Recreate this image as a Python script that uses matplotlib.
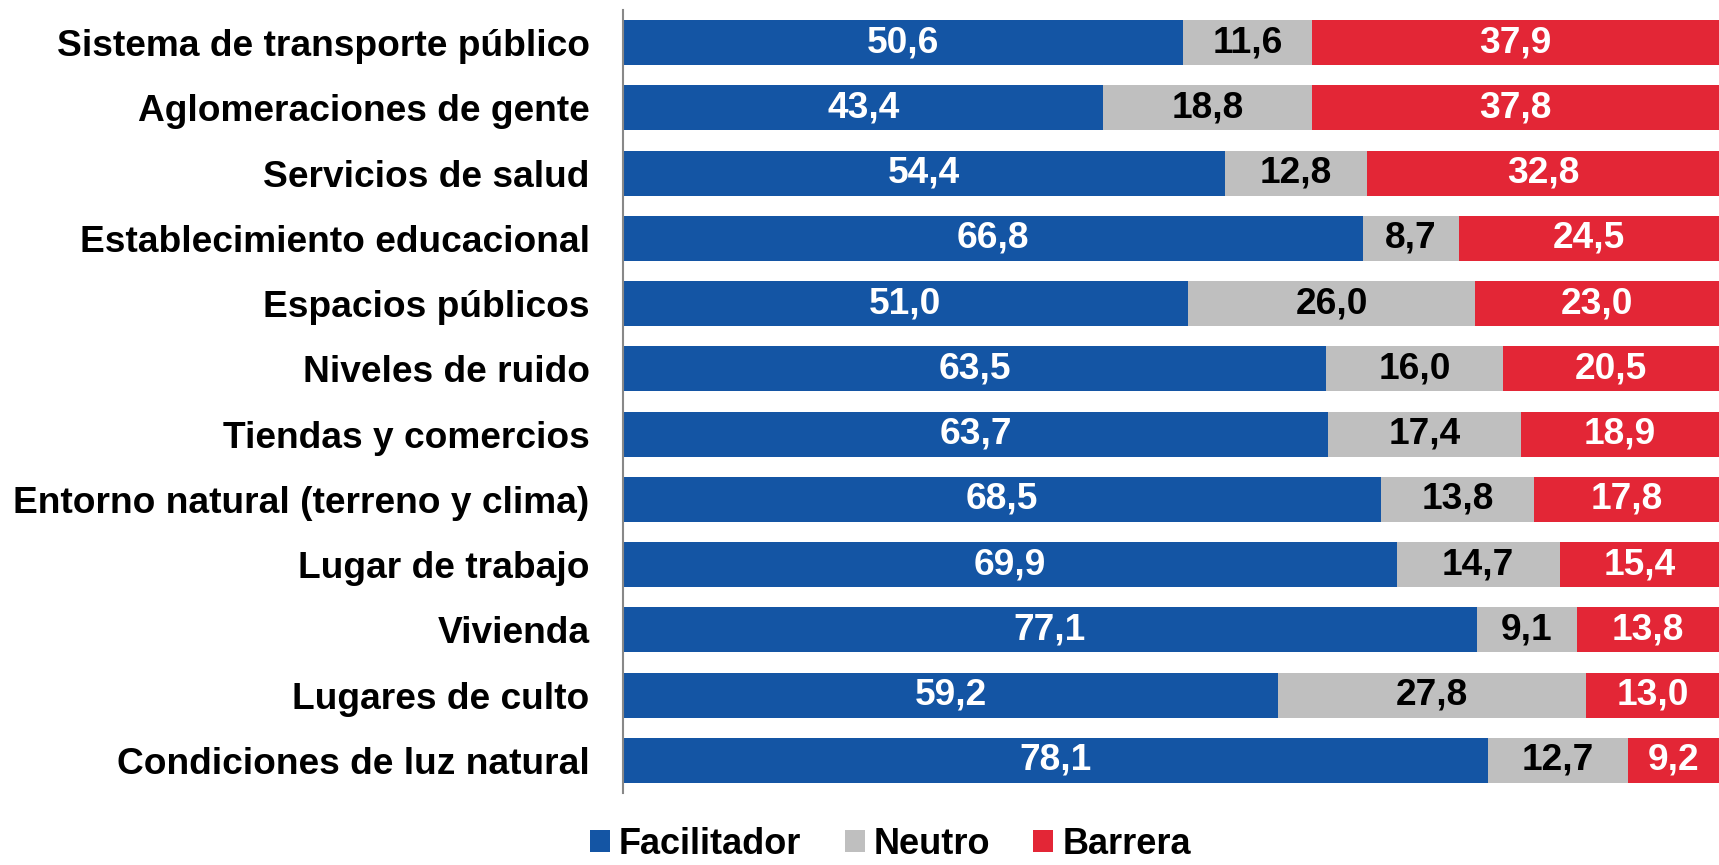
import matplotlib.pyplot as plt
import numpy as np

categorias = ['Sistema de transporte público', 'Aglomeraciones de gente', 'Servicios de salud',
              'Establecimiento educacional', 'Espacios públicos', 'Niveles de ruido',
              'Tiendas y comercios', 'Entorno natural (terreno y clima)', 'Lugar de trabajo',
              'Vivienda', 'Lugares de culto', 'Condiciones de luz natural']
facilitador = [50.6, 43.4, 54.4, 66.8, 51.0, 63.5, 63.7, 68.5, 69.9, 77.1, 59.2, 78.1]
neutro = [11.6, 18.8, 12.8, 8.7, 26.0, 16.0, 17.4, 13.8, 14.7, 9.1, 27.8, 12.7]
barrera = [37.9, 37.8, 32.8, 24.5, 23.0, 20.5, 18.9, 17.8, 15.4, 13.8, 13.0, 9.2]

series = [('Facilitador', facilitador, '#1455a4', 'white'),
          ('Neutro', neutro, '#bfbfbf', 'black'),
          ('Barrera', barrera, '#e32636', 'white')]

plt.rcParams['font.family'] = ['Liberation Sans', 'DejaVu Sans']
plt.rcParams['font.weight'] = 'bold'
fs = 26.7

fig = plt.figure(figsize=(17.19, 8.65), dpi=100)
ax = fig.add_axes([0.3624, 0.0832, 0.6376, 0.9052])

y = np.arange(len(categorias))
left = np.zeros(len(categorias))
for nombre, vals, color, txt in series:
    vals = np.array(vals)
    bars = ax.barh(y, vals, left=left, height=0.69, color=color, label=nombre)
    for b, v in zip(bars, vals):
        # label sits in the middle of the visible part of the segment
        x0 = b.get_x()
        x1 = min(x0 + b.get_width(), 99)
        ax.text((x0 + x1) / 2, b.get_y() + b.get_height() / 2,
                f'{v:.1f}'.replace('.', ','), ha='center', va='center',
                color=txt, fontsize=fs, fontweight='bold')
    left += vals

ax.set_xlim(0, 99)
ax.set_ylim(11.5, -0.5)
ax.set_yticks(y)
ax.set_yticklabels(categorias, fontsize=fs, fontweight='bold')
ax.tick_params(axis='y', length=0, pad=24)
ax.set_xticks([])
for s in ['top', 'right', 'bottom']:
    ax.spines[s].set_visible(False)
ax.spines['left'].set_color('#888888')
ax.spines['left'].set_linewidth(1.5)

fig.legend(loc='center', bbox_to_anchor=(0.518, 0.024), ncol=3, frameon=False,
           fontsize=26, handlelength=0.55, handleheight=0.55, handletextpad=0.25,
           columnspacing=1.2, borderaxespad=0)

fig.savefig('out.png', dpi=100)
